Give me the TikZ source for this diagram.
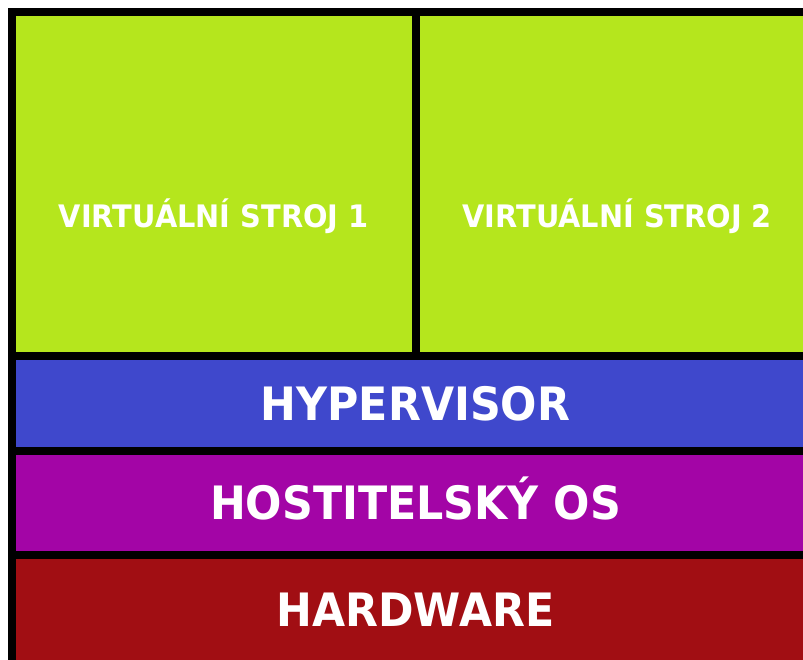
\documentclass[tikz,border=0pt]{standalone}
\usepackage{fontspec}
\usepackage{xcolor}
\newfontfamily\boxfont[FakeStretch=0.93]{DejaVu Sans}
\definecolor{vmgreen}{HTML}{B5E61D}
\definecolor{hvblue}{HTML}{3F48CC}
\definecolor{osmagenta}{HTML}{A305A6}
\definecolor{hwred}{HTML}{A10E13}

\begin{document}
\begin{tikzpicture}[x=1pt,y=-1pt,
  layer/.style={draw=black, line width=8pt, outer sep=0pt, inner sep=0pt, text=white, text height=33.5pt, text depth=0pt, font=\boxfont\bfseries\fontsize{46}{46}\selectfont},
  vmtext/.style={text=white, inner sep=0pt, text height=22.6pt, text depth=0pt, font=\boxfont\bfseries\fontsize{31}{31}\selectfont}]
\useasboundingbox (0,0) rectangle (803,660);
\clip (0,0) rectangle (803,660);
\node[layer, fill=vmgreen, minimum width=403.5pt, minimum height=344pt](vm1) at (213.75,184){};
\node[layer, fill=vmgreen, minimum width=403.5pt, minimum height=344pt](vm2) at (617.25,184){};
\node[layer, fill=hvblue, minimum width=807pt, minimum height=94.5pt](hv) at (415.5,403.25){HYPERVISOR};
\node[layer, fill=osmagenta, minimum width=807pt, minimum height=104.5pt](os) at (415.5,502.75){HOSTITELSKÝ OS};
\node[layer, fill=hwred, minimum width=807pt, minimum height=109pt](hw) at (415.5,609.5){HARDWARE};
\node[vmtext](t1) at ([yshift=-32pt]vm1.center){VIRTUÁLNÍ STROJ 1};
\node[vmtext](t2) at ([yshift=-32pt]vm2.center){VIRTUÁLNÍ STROJ 2};
\end{tikzpicture}
\end{document}
